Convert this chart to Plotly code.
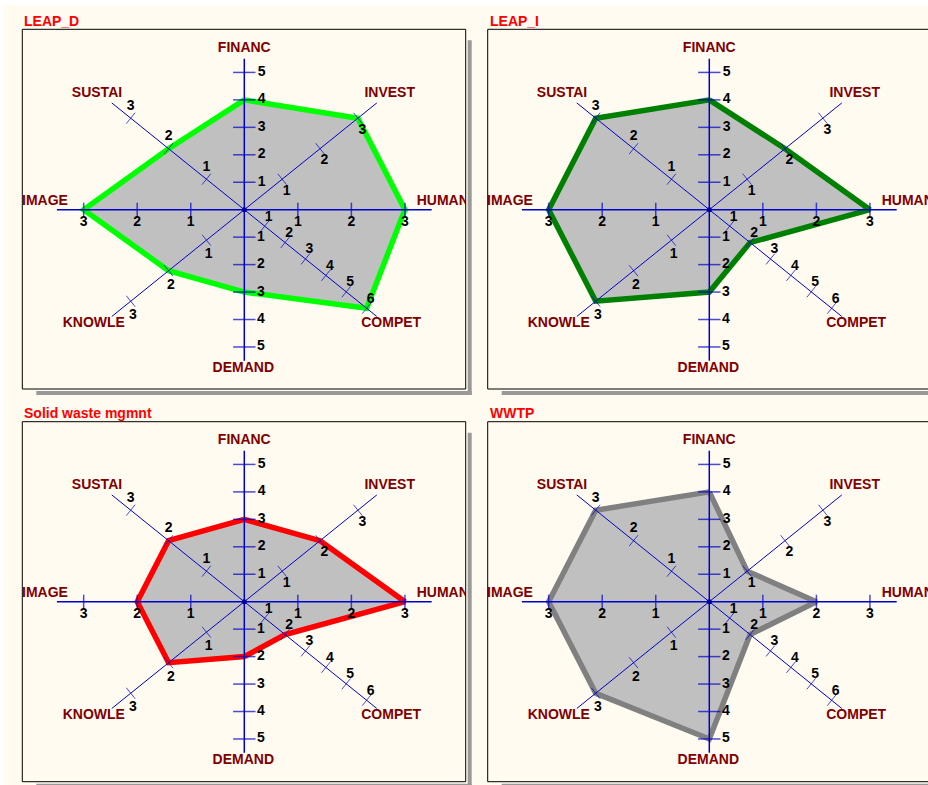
import math
import plotly.graph_objects as go

# ---------------- data ----------------
AXES = ["FINANC", "INVEST", "HUMAN", "COMPET", "DEMAND", "KNOWLE", "IMAGE", "SUSTAI"]
AXIS_MAX = [5, 3, 3, 6, 5, 3, 3, 3]
PANEL_TITLES = ["LEAP_D", "LEAP_I", "Solid waste mgmnt", "WWTP"]
LEAP_D = [4, 3, 3, 6, 3, 2, 3, 2]
LEAP_I = [4, 2, 3, 2, 3, 3, 3, 3]
SOLID_WASTE = [3, 2, 3, 2, 2, 2, 2, 2]
WWTP = [4, 1, 2, 2, 5, 3, 3, 3]
SERIES = [LEAP_D, LEAP_I, SOLID_WASTE, WWTP]

# ---------------- styling / layout constants ----------------
LINE_COLORS = ["#00FF00", "#008000", "#FF0000", "#808080"]
FILL = "#C0C0C0"
BG = "#FFFBF0"
AXCOL = "#0000CD"
LABCOL = "#800000"
FONT = "Liberation Sans, Arial, sans-serif"
W, H = 928, 785
ANGLES = [90, 45, 0, -45, -90, -135, 180, 135]
RX, RY = 187.4, 151.0          # pixels per unit radius (elliptical frame)
PANELS = [  # box x0, x1, y0, y1, centre cx, cy (pixels from top-left)
    (22.3, 465.7, 29.3, 389.0, 244.3, 209.7),
    (487.7, 931.0, 29.3, 389.0, 709.3, 209.7),
    (22.3, 465.7, 421.7, 781.7, 244.3, 601.7),
    (487.7, 931.0, 421.7, 781.7, 709.3, 601.7),
]
TITLE_Y = [21.5, 21.5, 413.3, 413.3]
# axis-name label centre offsets (px, y up) relative to the panel centre
NAME_OFF = [(0, 161), (145.4, 115.7), (198.5, 8), (146.9, -114.3),
            (-1, -159.3), (-150.5, -114.3), (-199.3, 8), (-147.3, 115.7)]
# tick label offsets (px, y up) relative to the tick position
TICKLAB_OFF = [(17.4, 0), (4.5, -12.3), (0, -13), (4, 9),
               (16.5, 0), (2.3, -14.5), (0, -12.5), (0, 12)]
TICK_LEN = [16, 10, 10, 10, 16, 10, 10, 10]
TICK_W = [1.5, 1, 1.5, 1, 1.5, 1, 1.5, 1]


def pos(k, v):
    r = v / (AXIS_MAX[k] + 0.5)
    t = math.radians(ANGLES[k])
    return r * math.cos(t), r * math.sin(t)


fig = go.Figure()
shapes = []
annotations = []

for p, (x0, x1, y0, y1, cx, cy) in enumerate(PANELS):
    n = "" if p == 0 else str(p + 1)
    xa, ya = "x" + n, "y" + n
    xr = x1 if x1 <= W else W
    fig.update_layout(**{
        "xaxis" + n: dict(domain=[x0 / W, xr / W], range=[(x0 - cx) / RX, (xr - cx) / RX],
                          visible=False, fixedrange=True, anchor=ya),
        "yaxis" + n: dict(domain=[1 - y1 / H, 1 - y0 / H], range=[(cy - y1) / RY, (cy - y0) / RY],
                          visible=False, fixedrange=True, anchor=xa),
    })

    # polygon
    vals = SERIES[p]
    px_, py_ = zip(*[pos(k, v) for k, v in enumerate(vals)])
    px_ = list(px_) + [px_[0]]
    py_ = list(py_) + [py_[0]]
    fig.add_trace(go.Scatter(x=px_, y=py_, mode="lines", fill="toself", fillcolor=FILL,
                             line=dict(color=LINE_COLORS[p], width=5.5), xaxis=xa, yaxis=ya,
                             hoverinfo="skip", showlegend=False))

    # axis lines
    for main in (True, False):
        lx, ly = [], []
        for k in range(8):
            if (ANGLES[k] % 90 == 0) != main:
                continue
            t = math.radians(ANGLES[k])
            lx += [0, math.cos(t), None]
            ly += [0, math.sin(t), None]
        fig.add_trace(go.Scatter(x=lx, y=ly, mode="lines",
                                 line=dict(color=AXCOL, width=1.5 if main else 1),
                                 xaxis=xa, yaxis=ya, hoverinfo="skip", showlegend=False))

    # tick marks + tick labels
    tx, ty, ta, ts, tw = [], [], [], [], []
    lx, ly, lt = [], [], []
    for k in range(8):
        t = math.radians(ANGLES[k])
        phi = math.degrees(math.atan2(RY * math.sin(t), RX * math.cos(t)))
        for v in range(1, AXIS_MAX[k] + 1):
            x, y = pos(k, v)
            tx.append(x); ty.append(y); ta.append(-phi)
            ts.append(TICK_LEN[k]); tw.append(TICK_W[k])
            ox, oy = TICKLAB_OFF[k]
            lx.append(x + ox / RX); ly.append(y + oy / RY); lt.append(str(v))
    fig.add_trace(go.Scatter(x=tx, y=ty, mode="markers",
                             marker=dict(symbol="line-ns", size=ts, angle=ta,
                                         line=dict(color=AXCOL, width=tw)),
                             xaxis=xa, yaxis=ya, hoverinfo="skip", showlegend=False))
    fig.add_trace(go.Scatter(x=[0], y=[0], mode="markers",
                             marker=dict(symbol="circle", size=5, color="#0000A0"),
                             xaxis=xa, yaxis=ya, hoverinfo="skip", showlegend=False))
    fig.add_trace(go.Scatter(x=lx, y=ly, mode="text", text=lt, textposition="middle center",
                             textfont=dict(family=FONT, size=14, color="#000000", weight="bold"),
                             xaxis=xa, yaxis=ya, hoverinfo="skip", showlegend=False, cliponaxis=True))

    # axis names
    nx = [o[0] / RX for o in NAME_OFF]
    ny = [o[1] / RY for o in NAME_OFF]
    fig.add_trace(go.Scatter(x=nx, y=ny, mode="text", text=AXES, textposition="middle center",
                             textfont=dict(family=FONT, size=14, color=LABCOL, weight="bold"),
                             xaxis=xa, yaxis=ya, hoverinfo="skip", showlegend=False, cliponaxis=True))

    # frame + shadow
    shapes.append(dict(type="rect", xref="paper", yref="paper", x0=x1 / W + 2 / W, x1=(x1 + 6) / W,
                       y0=1 - (y1 + 6) / H, y1=1 - (y0 + 11) / H, fillcolor="#999999",
                       line=dict(width=0), layer="below"))
    shapes.append(dict(type="rect", xref="paper", yref="paper", x0=(x0 + 14) / W, x1=(x1 + 6) / W,
                       y0=1 - (y1 + 6) / H, y1=1 - (y1 + 2) / H, fillcolor="#999999",
                       line=dict(width=0), layer="below"))
    shapes.append(dict(type="rect", xref="paper", yref="paper", x0=x0 / W, x1=x1 / W,
                       y0=1 - y1 / H, y1=1 - y0 / H, fillcolor="rgba(0,0,0,0)",
                       line=dict(color="#000000", width=1), layer="above"))
    annotations.append(dict(text=PANEL_TITLES[p], xref="paper", yref="paper", x=x0 / W,
                            y=1 - TITLE_Y[p] / H, xanchor="left", yanchor="middle", showarrow=False,
                            font=dict(family=FONT, size=14, color="#FF0000", weight="bold")))

# white strips at the top/left edge of the screenshot
shapes.append(dict(type="rect", xref="paper", yref="paper", x0=0, x1=1, y0=1 - 5 / H, y1=1,
                   fillcolor="#FFFFFF", line=dict(width=0), layer="below"))
shapes.append(dict(type="rect", xref="paper", yref="paper", x0=0, x1=3 / W, y0=0, y1=1,
                   fillcolor="#FFFFFF", line=dict(width=0), layer="below"))

fig.update_layout(width=W, height=H, margin=dict(l=0, r=0, t=0, b=0),
                  paper_bgcolor=BG, plot_bgcolor=BG, shapes=shapes, annotations=annotations,
                  showlegend=False)
fig.write_html("out.html", config={"displayModeBar": False},
               post_script="document.body.style.margin='0px';document.body.style.overflow='hidden';")
